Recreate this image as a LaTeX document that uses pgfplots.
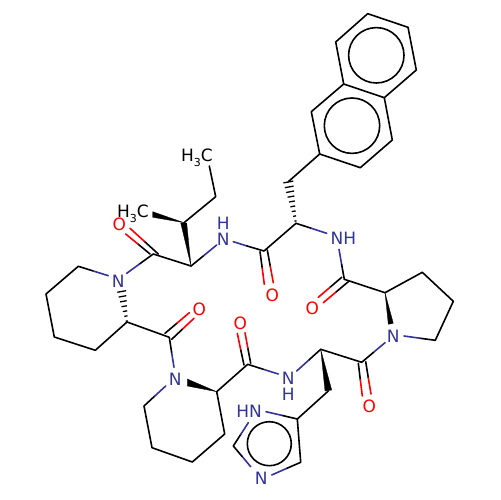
\documentclass[border=0pt]{standalone}
\usepackage{pgfplots}
\pgfplotsset{compat=1.18}
\usepackage{fontspec}
\setmainfont{DejaVu Sans}
\definecolor{hb}{rgb}{0.2,0.2,0.6}
\definecolor{hr}{rgb}{1,0,0}
\pgfplotsset{bnd/.style={line width=1.6bp,line join=round,line cap=round}}
\newcommand\K[1]{\addplot[black,bnd] coordinates{#1};}
\newcommand\BL[1]{\addplot[hb,bnd] coordinates{#1};}
\newcommand\RD[1]{\addplot[hr,bnd] coordinates{#1};}
\newcommand\HS[1]{\addplot[black,line width=1.3bp] coordinates{#1};}
\newcommand\WG[1]{\addplot[black,fill=black,line width=0.3bp] coordinates{#1} -- cycle;}
\newcommand\LB[4]{\node[text=#1,inner sep=0pt,anchor=center,text height=12.4bp,text depth=0pt,font=\fontsize{17bp}{18bp}\selectfont] at (axis cs:#2,#3) {#4};}
\newcommand\subt{\raisebox{-5.5bp}{\fontsize{11bp}{12bp}\selectfont 3}}
\begin{document}
\begin{tikzpicture}[x=1bp,y=1bp]
\begin{axis}[anchor=south west,at={(0,0)},width=500bp,height=500bp,scale only axis,
  xmin=0,xmax=500,ymin=0,ymax=500,y dir=reverse,hide axis,clip=false]
\path[use as bounding box] (axis cs:0,0) rectangle (axis cs:500,500);
% naphthalene
\K{(343.7,84)(335.7,42)(367.7,13.7)(408,27.3)(416.3,70)(384.3,97.7)(343.7,84)(311.3,111.7)(319.7,154)(360.3,167.7)(392.3,140)(384.3,97.7)}
\addplot[only marks,mark=o,mark size=27.7bp,mark options={black,line width=1.6bp}] coordinates{(376.3,55.3)(352,125.7)};
\K{(319.7,154)(288.3,181.7)}
% hashed bond to CH2
\HS{(294.5,221.2)(296.5,220.8)}
\HS{(293.1,216.4)(296.1,215.8)}
\HS{(291.7,211.6)(295.7,210.9)}
\HS{(290.4,206.9)(295.2,205.9)}
\HS{(289,202)(294.8,201)}
\HS{(287.6,197.2)(294.4,196)}
\HS{(286.2,192.5)(294,191)}
\HS{(284.8,187.7)(293.6,186.1)}
\HS{(283.4,182.9)(293.2,181.1)}
% Nal alpha C
\K{(296,223.3)(311.3,228.3)}
\BL{(311.3,228.3)(326.7,233.3)}
\BL{(339,249.3)(341.6,264.3)}
\K{(341.6,264.3)(344.3,279.3)}
\K{(348.3,281.7)(335.8,292.2)}
\RD{(335.8,292.2)(323.3,302.7)}
\K{(341.7,277.3)(330,287.3)}
\RD{(330,287.3)(318.3,297.3)}
\K{(344.3,279.3)(385,292.7)}
% proline
\K{(385,292.7)(422.3,272.3)(453.3,301.3)(435.3,340.3)(419.7,338.2)}
\BL{(419.7,338.2)(404,336)}
\WG{(385,292.7)(388.3,324.3)(393.3,323.3)}
\BL{(385,342.7)(373.3,352.5)}
\K{(373.3,352.5)(361.7,362.3)(320.7,349.3)}
\K{(358.3,363.3)(360.3,379.6)}
\RD{(360.3,379.6)(362.3,396)}
\K{(365.7,361.7)(368.3,377.8)}
\RD{(368.3,377.8)(371,394)}
\K{(320.7,349.3)(308.7,360.2)}
\BL{(308.7,360.2)(296.7,371)}
\WG{(320.7,349.3)(325,391)(331.7,390)}
\K{(328.3,391)(297.3,419)(300.7,462.3)(286.2,468.6)}
\BL{(286.2,468.6)(271.7,475)}
\K{(297.3,419)(281.6,415.3)}
\BL{(281.6,415.3)(266,411.7)}
\BL{(250.7,466.7)(242,456.3)}
\K{(242,456.3)(233.3,446)(240.8,434.3)}
\BL{(240.8,434.3)(248.3,422.7)}
\addplot[only marks,mark=o,mark size=22bp,mark options={black,line width=1.6bp}] coordinates{(269.3,443.7)};
% amide to second piperidine
\BL{(278.3,374)(263,369.2)}
\K{(263,369.2)(247.7,364.3)(216.7,391.7)}
\K{(244,365)(240.6,349.2)}
\RD{(240.6,349.2)(237.3,333.3)}
\K{(250.7,363.3)(247.8,348)}
\RD{(247.8,348)(245,332.7)}
\WG{(216.7,391.7)(187.3,379)(187.3,386)}
\K{(216.7,391.7)(224.7,434)(192.3,462)(152,447.7)(144,406)(154.8,396)}
\BL{(154.8,396)(165.7,386)}
\BL{(174,367.3)(171.6,352.3)}
\K{(171.6,352.3)(169.3,337.3)(127,322)}
\K{(171.7,339.3)(182.8,328.8)}
\RD{(182.8,328.8)(194,318.3)}
\K{(165,333.3)(177.2,323)}
\RD{(177.2,323)(189.3,312.7)}
% hashed bond in first piperidine
\HS{(125.7,321.2)(127.7,320.8)}
\HS{(124.3,316.4)(127.5,315.8)}
\HS{(122.8,311.6)(127.2,310.8)}
\HS{(121.5,306.7)(126.9,305.8)}
\HS{(120.1,301.9)(126.7,300.7)}
\HS{(118.7,297.1)(126.3,295.7)}
\HS{(117.3,292.3)(126.1,290.7)}
\K{(127,322)(95.3,350.3)(54.3,337)(46,294)(78.3,266.3)(93.3,271)}
\BL{(93.3,271)(108.3,275.7)}
\BL{(126.7,273.3)(140,263.6)}
\K{(140,263.6)(153.3,254)(191,266)}
\K{(158.3,254)(144.2,241.2)}
\RD{(144.2,241.2)(130,228.3)}
\K{(150,254)(137.9,244)}
\RD{(137.9,244)(125.7,234)}
% isoleucine
\WG{(191,266)(180.7,223)(186.7,223)}
\WG{(184,222.7)(152.7,211.7)(152.7,217.3)}
\K{(184,222.7)(215.7,196.7)(209.3,166)}
\K{(191,266)(203.9,255.5)}
\BL{(203.9,255.5)(216.7,245)}
\BL{(233.3,241.7)(246.7,245.9)}
\K{(246.7,245.9)(264,251)(296,223.3)}
\K{(260,251.7)(262.2,268)}
\RD{(262.2,268)(264.3,284.3)}
\K{(267.3,250)(270.3,266.4)}
\RD{(270.3,266.4)(273.3,282.7)}
% labels
\LB{black}{197}{155}{H\subt C}
\LB{black}{133}{211}{H\subt C}
\LB{hr}{119.3}{224.3}{O}
\LB{hb}{223.3}{223.3}{H}
\LB{hb}{223.3}{239}{N}
\LB{hb}{118.3}{281}{N}
\LB{hr}{272.3}{295.3}{O}
\LB{hb}{343.3}{238.3}{NH}
\LB{hr}{312.3}{308}{O}
\LB{hb}{393.3}{336}{N}
\LB{hr}{369.3}{406.7}{O}
\LB{hb}{288.3}{378.3}{N}
\LB{hb}{288.3}{394.3}{H}
\LB{hr}{240.3}{323.7}{O}
\LB{hb}{175.3}{379.3}{N}
\LB{hr}{199.3}{309.3}{O}
\LB{hb}{249}{411}{HN}
\LB{hb}{261.3}{478.7}{N}
\end{axis}
\end{tikzpicture}
\end{document}
